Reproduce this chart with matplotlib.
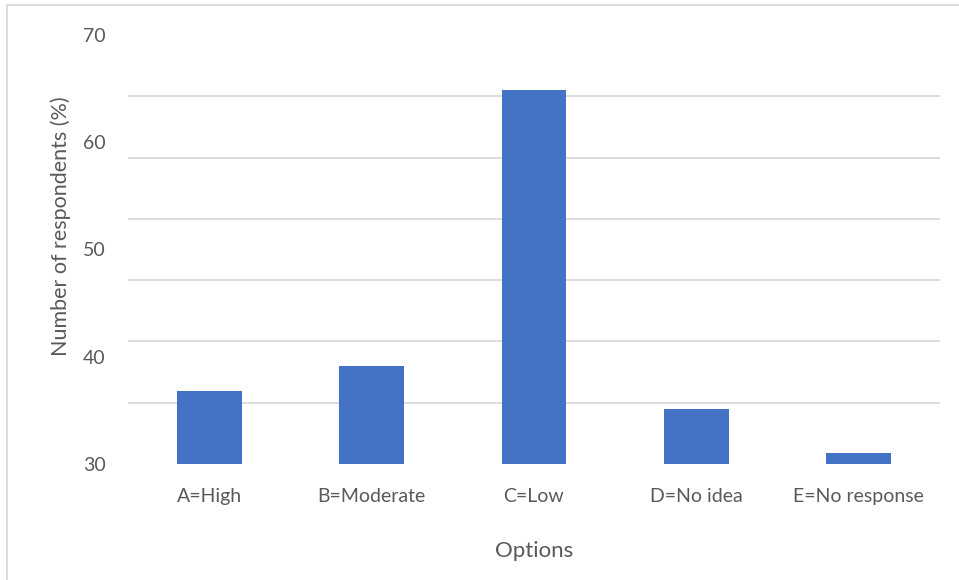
import numpy as np
import matplotlib.pyplot as plt
from matplotlib.patches import Rectangle

# Data (in the axis units shown: 30-70)
options = ["A=High", "B=Moderate", "C=Low", "D=No idea", "E=No response"]
respondents = [36.8, 39.1, 64.9, 35.1, 31.05]
ytick_vals = [30, 40, 50, 60, 70]

plt.rcParams['font.family'] = ['Lato', 'DejaVu Sans']
text_col = '#595959'
grid_col = '#d9d9d9'
bar_col = '#4472c4'

fig = plt.figure(figsize=(9.59, 5.8), dpi=100)
ax = fig.add_axes([128/959, 116/580, (940-128)/959, (464-35)/580])

x = np.arange(len(options))
ax.bar(x, respondents, width=0.4, color=bar_col, zorder=3)

ax.set_xlim(-0.5, len(options) - 0.5)
ax.set_ylim(30, 70)

# gridlines: 8 evenly spaced lines, labels every 10
ax.set_yticks(ytick_vals)
ax.set_yticklabels([str(v) for v in ytick_vals])
ax.set_yticks(np.linspace(30, 70, 8), minor=True)
ax.yaxis.grid(True, which='minor', color=grid_col, linewidth=1.3, zorder=0)
ax.tick_params(axis='y', which='both', length=0, pad=16, labelsize=14, labelcolor=text_col)

ax.set_xticks(x)
ax.set_xticklabels(options)
ax.tick_params(axis='x', length=0, pad=17, labelsize=14, labelcolor=text_col)

for s in ax.spines.values():
    s.set_visible(False)

ax.set_xlabel("Options", fontsize=16, color=text_col, labelpad=26)
ax.set_ylabel("Number of respondents (%)", fontsize=15.5, color=text_col)
ax.yaxis.set_label_coords(-0.07, 0.555)

# outer chart frame
fig.patches.append(Rectangle((7/959, -0.01), 1.0, 1 - 5/580 + 0.01,
                             transform=fig.transFigure, fill=False,
                             edgecolor=grid_col, linewidth=1.3))

fig.savefig("out.png", dpi=100)
